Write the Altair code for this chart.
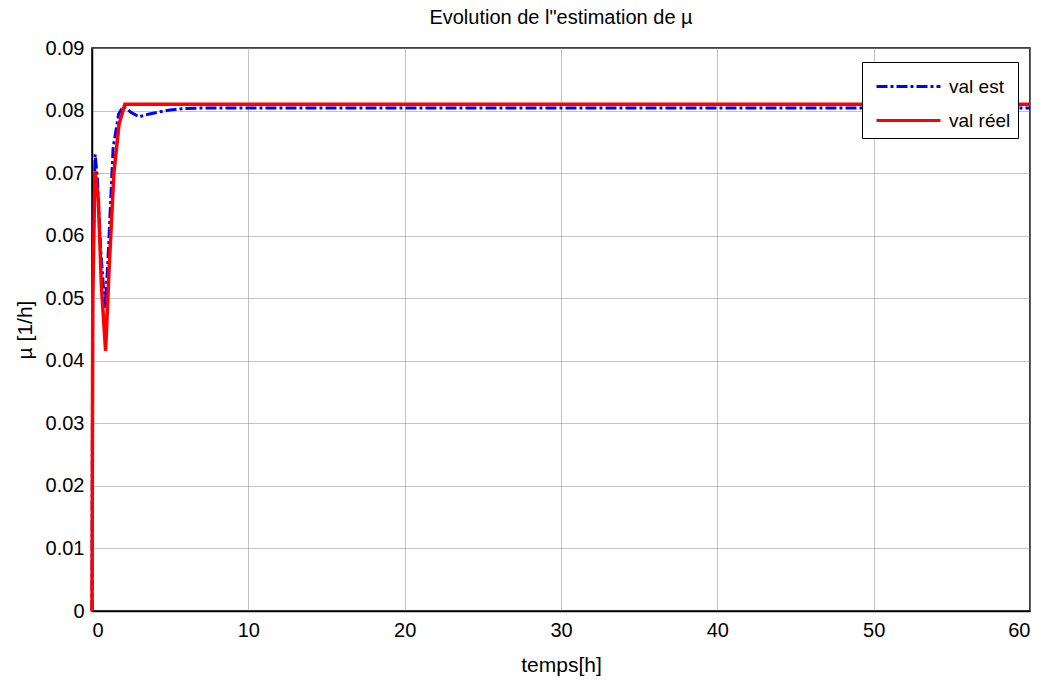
import altair as alt
import pandas as pd

# --- data ---
t_est = [0, 0.05, 0.2, 0.35, 0.55, 0.83, 1.0, 1.35, 1.7, 2.0, 2.5, 3.0, 3.6, 4.35, 5.0, 5.8, 7.0, 60.0]
v_est = [0, 0.055, 0.073, 0.069, 0.058, 0.0485, 0.055, 0.074, 0.0794, 0.0807, 0.0797, 0.079,
         0.0794, 0.0798, 0.0801, 0.0803, 0.0804, 0.0804]
t_reel = [0, 0.05, 0.19, 0.4, 0.6, 0.87, 1.1, 1.4, 1.73, 2.1, 60.0]
v_reel = [0, 0.05, 0.0703, 0.066, 0.052, 0.0416, 0.055, 0.07, 0.0778, 0.081, 0.081]
series = ["val est", "val réel"]
x_ticks = [0, 10, 20, 30, 40, 50, 60]
y_ticks = [0, 0.01, 0.02, 0.03, 0.04, 0.05, 0.06, 0.07, 0.08, 0.09]

df_est = pd.DataFrame({"t": t_est, "v": v_est, "s": series[0]})
df_reel = pd.DataFrame({"t": t_reel, "v": v_reel, "s": series[1]})

FONT = "Liberation Sans"

x = alt.X("t:Q", scale=alt.Scale(domain=[0, 60], nice=False),
          axis=alt.Axis(values=x_ticks, title="temps[h]", format="d"))
y = alt.Y("v:Q", scale=alt.Scale(domain=[0, 0.09], nice=False),
          axis=alt.Axis(values=y_ticks, title="µ  [1/h]", format="~g"))
color = alt.Color("s:N", scale=alt.Scale(domain=series, range=["#0000ff", "#ff0000"]),
                  legend=alt.Legend(title=None, orient="none", legendX=770, legendY=14,
                                    symbolType="M-2,0H2", symbolSize=1024, symbolStrokeWidth=3,
                                    symbolOffset=22,
                                    labelFontSize=19, labelFont=FONT, labelColor="black",
                                    labelOffset=23, rowPadding=6, padding=7,
                                    strokeColor="black", fillColor="white", labelLimit=200))
dash = alt.StrokeDash("s:N", scale=alt.Scale(domain=series, range=[[11, 3, 3, 3], [1, 0]]),
                      legend=None)

est = alt.Chart(df_est).mark_line(strokeWidth=3).encode(x=x, y=y, color=color, strokeDash=dash)
reel = alt.Chart(df_reel).mark_line(strokeWidth=3.5).encode(x=x, y=y, color=color, strokeDash=dash)

chart = alt.layer(est, reel).properties(
    width=938, height=563,
    title=alt.TitleParams("Evolution de l\"estimation de µ", font=FONT, fontSize=20,
                          fontWeight="normal", color="black", offset=10),
    autosize=alt.AutoSizeParams(type="none"),
    padding={"left": 92, "top": 48, "right": 16, "bottom": 69},
).configure_view(stroke="black", strokeWidth=1.5).configure_axis(
    labelFont=FONT, labelFontSize=20, labelColor="black", titleFont=FONT, titleFontSize=21,
    titleFontWeight="normal", titleColor="black", grid=True, gridColor="#888888",
    gridDash=[1, 1], gridWidth=1, domainColor="black", domainWidth=1.5, tickSize=0,
).configure_axisX(titlePadding=14, labelPadding=9).configure_axisY(titlePadding=10, labelPadding=8)

chart.save("out.html", embed_options={"renderer": "svg", "actions": False})
